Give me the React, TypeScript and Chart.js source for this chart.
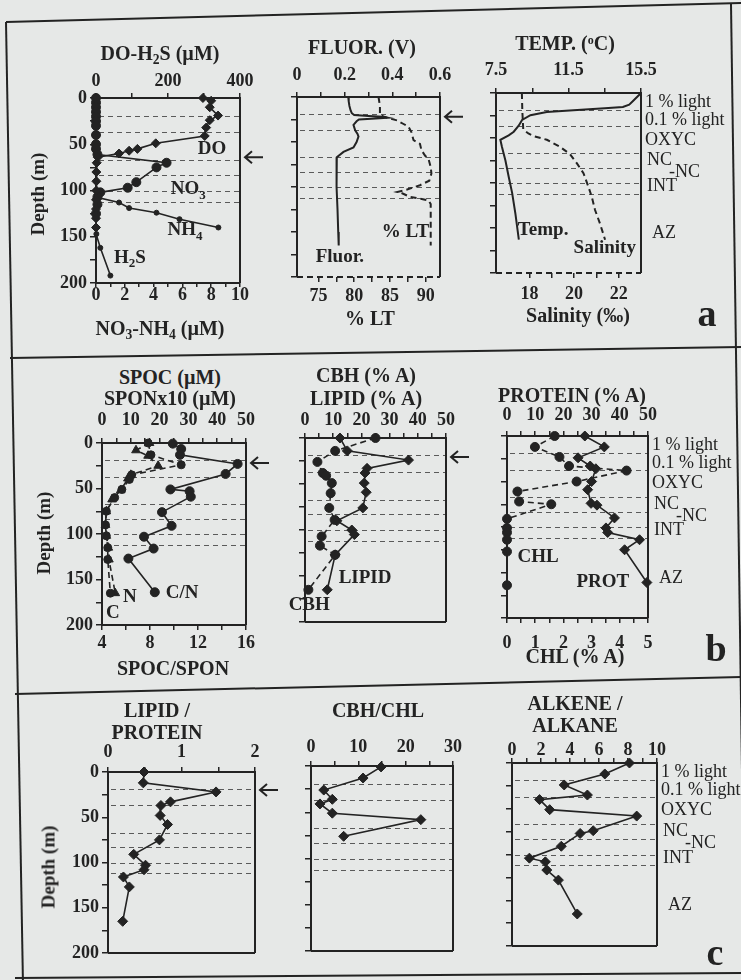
import React, { useEffect, useRef } from 'react';
import { Chart, registerables } from 'chart.js';

Chart.register(...registerables);

const SERIF = '"Liberation Serif", "Times New Roman", Times, serif';
const INK = '#232323';
const PAPER = '#e6e8e7';

// ---------- common depth axis ----------
const DEPTH_TICKS = [0, 25, 50, 75, 100, 125, 150, 175, 200];
const DEPTH_LABELS = [0, 50, 100, 150, 200];
const ZONE_DEPTHS = [19, 37, 67, 83, 100, 112];
const ZONE_NAMES = ['1 % light', '0.1 % light', 'OXYC', 'NC', '-NC', 'INT', 'AZ'];
const ZONE_LABEL_DEPTHS = [10, 30, 52, 75, 88, 104, 156];
const ZONE_LABEL_DX = [4, 4, 4, 6, 28, 6, 11];

// ---------- row a ----------
const DO_DEPTH = [0, 3, 10, 19, 24, 32, 41, 49, 55, 57, 60, 64, 70, 80, 90, 100, 110, 120, 130, 140];
const DO_VAL = [297, 320, 316, 339, 316, 306, 302, 166, 115, 92, 64, 5, 2, 1, 1, 1, 0, 0, 0, 0];
const NO3_DEPTH = [0, 5, 10, 15, 20, 25, 30, 40, 50, 55, 61, 70, 75, 91, 97, 102, 107, 115, 125];
const NO3_VAL = [0, 0, 0, 0, 0, 0, 0, 0, 0, 0, 0.1, 4.9, 4.2, 2.8, 2.2, 0.3, 0.1, 0.1, 0];
const NH4_DEPTH = [0, 10, 20, 30, 40, 50, 60, 70, 80, 90, 100, 108, 113, 119, 124, 131, 140];
const NH4_VAL = [0, 0, 0, 0, 0, 0, 0, 0, 0, 0, 0, 0.2, 1.6, 2.3, 4.2, 5.8, 8.5];
const H2S_DEPTH = [110, 120, 130, 140, 147, 162, 192];
const H2S_VAL = [0, 0, 0, 0, 1, 12, 40];

const FLUOR_DEPTH = [0, 5, 10, 15, 18, 20, 21, 22, 23, 24, 25, 27, 31, 37, 41, 44, 50, 56, 61, 67, 74, 100, 125, 150, 165];
const FLUOR_VAL = [0.215, 0.217, 0.22, 0.225, 0.23, 0.24, 0.3, 0.36, 0.38, 0.33, 0.26, 0.25, 0.237, 0.244, 0.254, 0.258, 0.25, 0.237, 0.195, 0.167, 0.165, 0.167, 0.17, 0.173, 0.175];
const LT_DEPTH = [0, 10, 20, 22, 24, 26, 30, 33, 39, 48, 52, 59, 65, 69, 78, 85, 93, 98, 103, 105.5, 107, 111, 113, 115, 119, 140, 165];
const LT_VAL = [83.4, 83.6, 83.6, 84.2, 85.0, 86.0, 86.9, 87.6, 88.0, 88.3, 89.2, 89.4, 89.9, 90.4, 90.7, 90.8, 90.5, 89.2, 87.3, 86.0, 86.7, 87.8, 89.2, 90.4, 90.7, 90.7, 90.7];

const TEMP_DEPTH = [0, 3, 8, 13, 15.5, 17, 18.5, 21, 24.7, 30, 36, 43, 47, 52, 60, 75, 93, 111, 134, 163];
const TEMP_VAL = [15.5, 15.35, 15.1, 14.85, 14.5, 13.5, 12.2, 10.3, 9.4, 8.94, 8.76, 8.48, 8.2, 7.74, 7.83, 8.02, 8.2, 8.39, 8.57, 8.76];
const SAL_DEPTH = [0, 20, 40, 42, 45, 48, 52, 60, 68, 78, 89, 104, 115, 130, 145, 163];
const SAL_VAL = [17.66, 17.68, 17.72, 17.8, 17.95, 18.2, 18.78, 19.38, 19.82, 20.12, 20.42, 20.64, 20.79, 20.94, 21.16, 21.39];

// ---------- row b ----------
const SPOC_DEPTH = [0, 13, 24, 35, 40, 51, 60, 75, 90, 102, 115, 128, 165];
const SPOC_VAL = [16, 17, 27.5, 10.3, 9.5, 6.9, 4.4, 1.5, 1.2, 1.5, 2, 2, 2.9];
const SPON_DEPTH = [0, 8, 14, 25, 35, 39, 52, 62, 75, 90, 102, 115, 128, 165];
const SPON_VAL = [16.5, 11.8, 16, 19.5, 10, 9, 6.5, 3.5, 1.5, 1.2, 1.5, 2.2, 2.4, 4.6];
const CN_DEPTH = [0.7, 6.6, 13, 23, 34, 51, 53, 59, 76, 91, 103, 116, 127, 164];
const CN_VAL = [9.9, 10.6, 10.5, 15.3, 14.3, 9.7, 11.3, 11.4, 9.0, 9.8, 7.5, 8.3, 6.2, 8.4];

const CBH_DEPTH = [0, 14, 26, 38, 41, 49, 60, 76, 89, 107, 117, 127, 165];
const CBH_VAL = [25, 10.7, 4.4, 6.3, 7.5, 9.5, 9.1, 8.6, 10.5, 5.9, 5.3, 10.7, 1.2];
const LIPID_DEPTH = [0, 14, 24, 33, 38, 49, 59, 76, 90, 100, 105, 127, 165];
const LIPID_VAL = [12.4, 15, 36.7, 22, 21.3, 21, 21.7, 20.5, 11.3, 16.6, 17.5, 10.7, 7.9];

const PROT_DEPTH = [0, 12, 24, 33, 36, 50, 59, 74, 76, 90, 101, 106, 114, 125, 161];
const PROT_VAL = [27.6, 34.5, 25.2, 29.5, 31.5, 30, 28.6, 29.8, 31.9, 38.1, 35.1, 35.7, 47, 41.7, 49.6];
const CHL_DEPTH = [0, 12, 23, 33, 38, 50, 61, 72, 75, 91, 101, 106, 114, 127, 164];
const CHL_VAL = [1.69, 0.99, 1.86, 2.2, 4.24, 2.47, 0.37, 0.43, 1.57, 0, 0, 0, 0, 0, 0];

// ---------- row c ----------
const LP_DEPTH = [0, 12, 22, 33, 37, 48, 58, 75, 91, 103, 108, 116, 127, 165];
const LP_VAL = [0.49, 0.48, 1.47, 0.85, 0.72, 0.71, 0.81, 0.7, 0.35, 0.51, 0.49, 0.21, 0.29, 0.2];
const CC_DEPTH = [1, 13, 26, 36, 41, 51, 58, 76];
const CC_VAL = [14.8, 11, 2.7, 4.5, 1.9, 4.5, 23.2, 6.9];
const AA_DEPTH = [0, 12, 24, 35, 40, 51, 58, 74, 77, 91, 104, 108, 117, 128, 165];
const AA_VAL = [8.1, 6.4, 3.6, 5.2, 1.9, 2.6, 8.6, 5.6, 4.7, 3.4, 1.2, 2.3, 2.4, 3.2, 4.5];

// ---------- axis tick lists ----------
const range = (a: number, b: number, s: number) => {
  const out: number[] = [];
  for (let v = a; v <= b + 1e-9; v += s) out.push(Math.round(v * 1000) / 1000);
  return out;
};

type AxisDef = { min: number; max: number; ticks: number[]; labels: number[]; pad: number; tl?: number };
type SeriesDef = {
  axis: 'xt' | 'xb';
  depth: number[];
  values: number[];
  dash?: boolean;
  point?: string;
  r?: number;
  w?: number;
};
type LabelDef = { text: string; x: number; y: number };
type PanelDef = {
  area: [number, number, number, number];
  xt: AxisDef;
  xb?: AxisDef;
  yLabels: boolean;
  bottomDashed?: boolean;
  series: SeriesDef[];
  labels: LabelDef[];
  arrow?: number;
  zones?: boolean;
};

const PANELS: PanelDef[] = [
  {
    area: [96, 98, 240, 283],
    xt: { min: 0, max: 400, ticks: range(0, 400, 100), labels: [0, 200, 400], pad: 3 },
    xb: { min: 0, max: 10, ticks: range(0, 10, 1), labels: [0, 2, 4, 6, 8, 10], pad: -1, tl: 4 },
    yLabels: true,
    series: [
      { axis: 'xt', depth: DO_DEPTH, values: DO_VAL, point: 'rectRot', r: 4.5 },
      { axis: 'xb', depth: NO3_DEPTH, values: NO3_VAL, point: 'circle', r: 4.5 },
      { axis: 'xb', depth: NH4_DEPTH, values: NH4_VAL, point: 'circle', r: 2.5 },
      { axis: 'xt', depth: H2S_DEPTH, values: H2S_VAL, point: 'circle', r: 2.5 },
    ],
    labels: [
      { text: 'DO', x: 322, y: 55 },
      { text: 'NO_3', x: 256, y: 99 },
      { text: 'NH_4', x: 247, y: 143 },
      { text: 'H_2S', x: 94, y: 173 },
    ],
    arrow: 64,
  },
  {
    area: [297, 97, 440, 277],
    xt: { min: 0, max: 0.6, ticks: range(0, 0.6, 0.1), labels: [0, 0.2, 0.4, 0.6], pad: 8 },
    xb: { min: 72, max: 92, ticks: range(75, 90, 2.5), labels: [75, 80, 85, 90], pad: 5 },
    yLabels: false,
    bottomDashed: true,
    series: [
      { axis: 'xt', depth: FLUOR_DEPTH, values: FLUOR_VAL, w: 2 },
      { axis: 'xb', depth: LT_DEPTH, values: LT_VAL, dash: true, w: 2 },
    ],
    labels: [
      { text: '% LT', x: 0.455, y: 150 },
      { text: 'Fluor.', x: 0.18, y: 178 },
    ],
    arrow: 22,
  },
  {
    area: [496, 93, 641, 273],
    xt: { min: 7.5, max: 15.5, ticks: range(7.5, 15.5, 2), labels: [7.5, 11.5, 15.5], pad: 9 },
    xb: { min: 16.5, max: 23, ticks: range(18, 22, 1), labels: [18, 20, 22], pad: 7 },
    yLabels: false,
    bottomDashed: true,
    series: [
      { axis: 'xt', depth: TEMP_DEPTH, values: TEMP_VAL, w: 2 },
      { axis: 'xb', depth: SAL_DEPTH, values: SAL_VAL, dash: true, w: 2 },
    ],
    labels: [
      { text: 'Temp.', x: 10.1, y: 152 },
      { text: 'Salinity', x: 13.5, y: 172 },
    ],
    zones: true,
  },
  {
    area: [102, 443, 246, 625],
    xt: { min: 0, max: 50, ticks: range(0, 50, 5), labels: [0, 10, 20, 30, 40, 50], pad: 9 },
    xb: { min: 4, max: 16, ticks: range(4, 16, 2), labels: [4, 8, 12, 16], pad: 4 },
    yLabels: true,
    series: [
      { axis: 'xt', depth: SPOC_DEPTH, values: SPOC_VAL, dash: true, point: 'circle', r: 4 },
      { axis: 'xt', depth: SPON_DEPTH, values: SPON_VAL, dash: true, point: 'triangle', r: 5 },
      { axis: 'xb', depth: CN_DEPTH, values: CN_VAL, point: 'circle', r: 4.5 },
    ],
    labels: [
      { text: 'C/N', x: 27.8, y: 165 },
      { text: 'N', x: 9.7, y: 169 },
      { text: 'C', x: 3.8, y: 187 },
    ],
    arrow: 22,
  },
  {
    area: [305, 438, 446, 622],
    xt: { min: 0, max: 50, ticks: range(0, 50, 5), labels: [0, 10, 20, 30, 40, 50], pad: 4 },
    yLabels: false,
    series: [
      { axis: 'xt', depth: CBH_DEPTH, values: CBH_VAL, dash: true, point: 'circle', r: 4.5 },
      { axis: 'xt', depth: LIPID_DEPTH, values: LIPID_VAL, point: 'rectRot', r: 5 },
    ],
    labels: [
      { text: 'LIPID', x: 21.3, y: 152 },
      { text: 'CBH', x: 1.5, y: 181.5 },
    ],
    arrow: 20.6,
  },
  {
    area: [507, 436, 648, 618],
    xt: { min: 0, max: 50, ticks: range(0, 50, 5), labels: [0, 10, 20, 30, 40, 50], pad: 7 },
    xb: { min: 0, max: 5, ticks: range(0, 5, 0.5), labels: [0, 1, 2, 3, 4, 5], pad: 11 },
    yLabels: false,
    series: [
      { axis: 'xt', depth: PROT_DEPTH, values: PROT_VAL, point: 'rectRot', r: 5 },
      { axis: 'xb', depth: CHL_DEPTH, values: CHL_VAL, dash: true, point: 'circle', r: 4.5 },
    ],
    labels: [
      { text: 'CHL', x: 11, y: 133 },
      { text: 'PROT', x: 34, y: 160 },
    ],
    zones: true,
  },
  {
    area: [108, 772, 255, 953],
    xt: { min: 0, max: 2, ticks: range(0, 2, 0.5), labels: [0, 1, 2], pad: 6 },
    yLabels: true,
    series: [{ axis: 'xt', depth: LP_DEPTH, values: LP_VAL, point: 'rectRot', r: 5 }],
    labels: [],
    arrow: 20,
  },
  {
    area: [311, 766, 453, 951],
    xt: { min: 0, max: 30, ticks: range(0, 30, 5), labels: [0, 10, 20, 30], pad: 5 },
    yLabels: false,
    series: [{ axis: 'xt', depth: CC_DEPTH, values: CC_VAL, point: 'rectRot', r: 5 }],
    labels: [],
  },
  {
    area: [512, 763, 657, 946],
    xt: { min: 0, max: 10, ticks: range(0, 10, 1), labels: [0, 2, 4, 6, 8, 10], pad: -1 },
    yLabels: false,
    series: [{ axis: 'xt', depth: AA_DEPTH, values: AA_VAL, point: 'rectRot', r: 5 }],
    labels: [],
    zones: true,
  },
];

function drawRich(ctx: CanvasRenderingContext2D, text: string, cx: number, cy: number, size: number, weight: string, align: 'center' | 'left') {
  const parts = text.split(/(_\d)/).filter((p) => p.length > 0);
  const segs = parts.map((p) => (p.startsWith('_') ? { t: p.slice(1), sub: true } : { t: p, sub: false }));
  const fontOf = (sub: boolean) => `${weight} ${sub ? Math.round(size * 0.68) : size}px ${SERIF}`;
  const widths = segs.map((s) => {
    ctx.font = fontOf(s.sub);
    return ctx.measureText(s.t).width;
  });
  const total = widths.reduce((a, b) => a + b, 0);
  let x = align === 'left' ? cx : cx - total / 2;
  ctx.textAlign = 'left';
  ctx.textBaseline = 'middle';
  ctx.fillStyle = INK;
  segs.forEach((s, i) => {
    ctx.font = fontOf(s.sub);
    ctx.fillText(s.t, x, cy + (s.sub ? size * 0.32 : 0));
    x += widths[i];
  });
}

function Panel({ def }: { def: PanelDef }) {
  const ref = useRef<HTMLCanvasElement>(null);
  const [l, t, r, b] = def.area;
  const PL = 60;
  const PT = 40;
  const PR = def.zones ? 100 : 36;
  const PB = 40;
  const W = r - l + PL + PR;
  const H = b - t + PT + PB;

  useEffect(() => {
    if (!ref.current) return;
    const font = { family: SERIF, size: 18, weight: 'bold' as const, lineHeight: 1 };
    const isLabel = (list: number[], v: number) => list.some((q) => Math.abs(q - v) < 1e-6);
    const mkX = (ax: AxisDef, pos: 'top' | 'bottom', h: number) => ({
      type: 'linear' as const,
      position: pos,
      axis: 'x' as const,
      min: ax.min,
      max: ax.max,
      afterBuildTicks: (s: any) => {
        s.ticks = ax.ticks.map((v) => ({ value: v }));
      },
      afterFit: (s: any) => {
        s.height = h;
      },
      ticks: {
        font,
        color: INK,
        padding: ax.pad,
        autoSkip: false,
        maxRotation: 0,
        minRotation: 0,
        callback: (v: any) => (isLabel(ax.labels, Number(v)) ? String(Number(v)) : ''),
      },
      grid: { drawOnChartArea: false, drawTicks: true, tickLength: ax.tl ?? 5, color: INK, lineWidth: 1.5 },
      border: { display: false },
    });

    const scales: any = {
      y: {
        type: 'linear',
        position: 'left',
        reverse: true,
        min: 0,
        max: 200,
        afterBuildTicks: (s: any) => {
          s.ticks = DEPTH_TICKS.map((v) => ({ value: v }));
        },
        afterFit: (s: any) => {
          s.width = PL;
        },
        ticks: {
          font,
          color: INK,
          padding: 3,
          autoSkip: false,
          callback: (v: any) => (def.yLabels && isLabel(DEPTH_LABELS, Number(v)) ? String(Number(v)) : ''),
        },
        grid: { drawOnChartArea: false, drawTicks: true, tickLength: 6, color: INK, lineWidth: 1.5 },
        border: { display: false },
      },
      xt: mkX(def.xt, 'top', PT),
    };
    if (def.xb) scales.xb = mkX(def.xb, 'bottom', PB);

    const decor = {
      id: 'decor',
      beforeDatasetsDraw(chart: any) {
        const { ctx, chartArea: a, scales: sc } = chart;
        ctx.save();
        ctx.setLineDash([5, 4]);
        ctx.strokeStyle = '#5a5a5a';
        ctx.lineWidth = 1;
        ZONE_DEPTHS.forEach((d) => {
          const y = Math.round(sc.y.getPixelForValue(d)) + 0.5;
          ctx.beginPath();
          ctx.moveTo(a.left + 3, y);
          ctx.lineTo(a.right, y);
          ctx.stroke();
        });
        ctx.restore();
      },
      afterDatasetsDraw(chart: any) {
        const { ctx, chartArea: a, scales: sc } = chart;
        ctx.save();
        // frame
        ctx.strokeStyle = INK;
        ctx.lineWidth = 2;
        ctx.setLineDash([]);
        ctx.beginPath();
        ctx.moveTo(a.left, a.bottom);
        ctx.lineTo(a.left, a.top);
        ctx.lineTo(a.right, a.top);
        ctx.lineTo(a.right, a.bottom);
        ctx.stroke();
        ctx.beginPath();
        if (def.bottomDashed) ctx.setLineDash([6, 4]);
        ctx.moveTo(a.left, a.bottom);
        ctx.lineTo(a.right, a.bottom);
        ctx.stroke();
        ctx.setLineDash([]);
        // in-plot labels
        def.labels.forEach((lb) => {
          drawRich(ctx, lb.text, sc.xt.getPixelForValue(lb.x), sc.y.getPixelForValue(lb.y), 19, 'bold', 'center');
        });
        // zone labels
        if (def.zones) {
          ZONE_NAMES.forEach((n, i) => {
            drawRich(ctx, n, a.right + ZONE_LABEL_DX[i], sc.y.getPixelForValue(ZONE_LABEL_DEPTHS[i]), 18, 'normal', 'left');
          });
        }
        // arrow
        if (def.arrow !== undefined) {
          const y = sc.y.getPixelForValue(def.arrow);
          const x0 = a.right + 5;
          const x1 = a.right + 23;
          ctx.lineWidth = 2;
          ctx.beginPath();
          ctx.moveTo(x1, y);
          ctx.lineTo(x0, y);
          ctx.moveTo(x0 + 7, y - 6);
          ctx.lineTo(x0, y);
          ctx.lineTo(x0 + 7, y + 6);
          ctx.stroke();
        }
        ctx.restore();
      },
    };

    const chart = new Chart(ref.current, {
      type: 'scatter',
      data: {
        datasets: def.series.map((s) => ({
          data: s.depth.map((d, i) => ({ x: s.values[i], y: d })),
          xAxisID: s.axis,
          yAxisID: 'y',
          showLine: true,
          borderColor: INK,
          backgroundColor: INK,
          borderWidth: s.w ?? 1.6,
          borderDash: s.dash ? [6, 4] : [],
          pointStyle: (s.point || 'circle') as any,
          pointRadius: s.point ? s.r ?? 4 : 0,
          pointBorderWidth: 1,
          pointBackgroundColor: INK,
          pointBorderColor: INK,
          tension: 0,
          clip: false as any,
        })),
      },
      options: {
        animation: false,
        responsive: false,
        devicePixelRatio: 1,
        events: [],
        layout: { padding: { left: 0, top: 0, right: PR, bottom: def.xb ? 0 : PB } },
        plugins: { legend: { display: false }, tooltip: { enabled: false } },
        scales,
      },
      plugins: [decor],
    });
    return () => chart.destroy();
  }, []);

  return (
    <canvas
      ref={ref}
      width={W}
      height={H}
      style={{ position: 'absolute', left: l - PL, top: t - PT, width: W, height: H }}
    />
  );
}

function Txt({ x, y, size = 20, bold = true, rot = false, children }: any) {
  return (
    <div
      style={{
        position: 'absolute',
        left: x,
        top: y,
        transform: `translate(-50%, -50%)${rot ? ' rotate(-90deg)' : ''}`,
        font: `${bold ? 'bold ' : ''}${size}px ${SERIF}`,
        color: INK,
        whiteSpace: 'nowrap',
        lineHeight: 1,
      }}
    >
      {children}
    </div>
  );
}

const Sub = ({ children }: any) => (
  <sub style={{ fontSize: '0.68em', verticalAlign: '-0.3em', lineHeight: 0 }}>{children}</sub>
);

export default function App() {
  return (
    <div
      style={{
        position: 'absolute',
        left: 0,
        top: 0,
        width: 741,
        height: 980,
        background: PAPER,
        overflow: 'hidden',
      }}
    >
      <svg width={741} height={980} style={{ position: 'absolute', left: 0, top: 0 }}>
        <g stroke={INK} strokeWidth={2}>
          <line x1={6} y1={22} x2={741} y2={3} />
          <line x1={6} y1={22} x2={23} y2={985} />
          <line x1={731} y1={4} x2={745} y2={980} />
          <line x1={10} y1={358} x2={741} y2={347} />
          <line x1={15} y1={694} x2={741} y2={677} />
          <line x1={15} y1={978} x2={741} y2={973} />
        </g>
      </svg>

      {PANELS.map((p, i) => (
        <Panel key={i} def={p} />
      ))}

      {/* row a */}
      <Txt x={160} y={53}>
        DO-H<Sub>2</Sub>S (µM)
      </Txt>
      <Txt x={160} y={328}>
        NO<Sub>3</Sub>-NH<Sub>4</Sub> (µM)
      </Txt>
      <Txt x={362} y={47}>FLUOR. (V)</Txt>
      <Txt x={370} y={318}>% LT</Txt>
      <Txt x={565} y={43}>
        TEMP. (<sup style={{ fontSize: '0.6em', verticalAlign: '0.5em', lineHeight: 0 }}>o</sup>C)
      </Txt>
      <Txt x={578} y={315}>Salinity (‰)</Txt>
      <Txt x={707} y={313} size={38}>a</Txt>
      <Txt x={37} y={194} size={19} rot>
        Depth (m)
      </Txt>

      {/* row b */}
      <Txt x={170} y={377}>SPOC (µM)</Txt>
      <Txt x={170} y={398}>SPONx10 (µM)</Txt>
      <Txt x={366} y={375}>CBH (% A)</Txt>
      <Txt x={366} y={398}>LIPID (% A)</Txt>
      <Txt x={572} y={395}>PROTEIN (% A)</Txt>
      <Txt x={173} y={668}>SPOC/SPON</Txt>
      <Txt x={575} y={656}>CHL (% A)</Txt>
      <Txt x={716} y={648} size={38}>b</Txt>
      <Txt x={43} y={533} size={19} rot>
        Depth (m)
      </Txt>

      {/* row c */}
      <Txt x={157} y={710}>LIPID /</Txt>
      <Txt x={157} y={732}>PROTEIN</Txt>
      <Txt x={378} y={710}>CBH/CHL</Txt>
      <Txt x={575} y={703}>ALKENE /</Txt>
      <Txt x={575} y={725}>ALKANE</Txt>
      <Txt x={715} y={952} size={38}>c</Txt>
      <Txt x={48} y={867} size={19} rot>
        Depth (m)
      </Txt>
    </div>
  );
}
